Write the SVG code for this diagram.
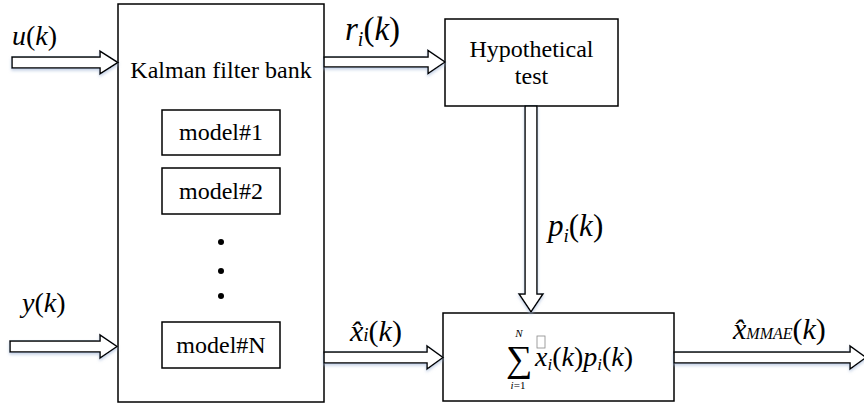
<svg xmlns="http://www.w3.org/2000/svg" width="864" height="408" viewBox="0 0 864 408">
<style>
.box{fill:#fff;stroke:#000;stroke-width:1.5}
.arr{fill:#fff;stroke:#000;stroke-width:1.5;stroke-linejoin:miter}
.t{font-family:"Liberation Serif","Times New Roman",serif;fill:#000}
.m{font-family:"Liberation Serif","Times New Roman",serif;fill:#000;font-style:italic}
.u{font-style:normal}
</style>
<defs>
<filter id="sh" x="-10%" y="-50%" width="120%" height="200%">
<feDropShadow dx="0" dy="2" stdDeviation="1.5" flood-color="#9fb4d6" flood-opacity="0.6"/>
</filter>
</defs>
<rect width="864" height="408" fill="#fff"/>

<g id="kalman">
<rect class="box" x="118" y="4" width="206" height="398"/>
<text class="t" x="221" y="78" font-size="24" text-anchor="middle">Kalman filter bank</text>
</g>
<g id="model1">
<rect class="box" x="162" y="110" width="118" height="45"/>
<text class="t" x="221" y="140" font-size="24" text-anchor="middle">model#1</text>
</g>
<g id="model2">
<rect class="box" x="162" y="168" width="118" height="46"/>
<text class="t" x="221" y="199" font-size="24" text-anchor="middle">model#2</text>
</g>
<g id="dots">
<circle cx="221" cy="242" r="3"/>
<circle cx="221" cy="271" r="3"/>
<circle cx="221" cy="296" r="3"/>
</g>
<g id="modelN">
<rect class="box" x="162" y="322" width="118" height="46"/>
<text class="t" x="221" y="353" font-size="24" text-anchor="middle">model#N</text>
</g>
<g id="hyp">
<rect class="box" x="445" y="19" width="173" height="87"/>
<text class="t" x="531.5" y="57" font-size="24" text-anchor="middle">Hypothetical</text>
<text class="t" x="531.5" y="84" font-size="24" text-anchor="middle">test</text>
</g>
<g id="sum">
<rect class="box" x="443" y="313" width="231" height="88"/>
<text class="t" x="519" y="371" font-size="37" text-anchor="middle">∑</text>
<text class="m" x="519" y="337" font-size="11" text-anchor="middle">N</text>
<text class="m" x="518" y="389" font-size="11" text-anchor="middle">i<tspan class="u">=1</tspan></text>
<rect x="537" y="336" width="8" height="12" fill="none" stroke="#888" stroke-width="0.8"/>
<text class="m" x="535" y="366" font-size="28">x<tspan font-size="17" dy="4">i</tspan><tspan class="u" dy="-4">(</tspan>k<tspan class="u">)</tspan>p<tspan font-size="17" dy="4">i</tspan><tspan class="u" dy="-4">(</tspan>k<tspan class="u">)</tspan></text>
</g>

<g id="connectors" filter="url(#sh)">
<polygon class="arr" points="12,57 100,57 100,51 118,62.5 100,74 100,68 12,68"/>
<polygon class="arr" points="10,341 100,341 100,335 117,346.5 100,358 100,352 10,352"/>
<polygon class="arr" points="324,57 428,57 428,50.5 445,62 428,73.5 428,67 324,67"/>
<polygon class="arr" points="525,106 537,106 537,294 543,294 531,312 519,294 525,294"/>
<polygon class="arr" points="324,352 427,352 427,346 443,357.5 427,369 427,363 324,363"/>
<polygon class="arr" points="674,352 850,352 850,346 866,357.5 850,369 850,363 674,363"/>
</g>

<g id="labels">
<text class="m" x="12" y="45" font-size="28">u<tspan class="u">(</tspan>k<tspan class="u">)</tspan></text>
<text class="m" x="22" y="312" font-size="28">y<tspan class="u">(</tspan>k<tspan class="u">)</tspan></text>
<text class="m" x="345" y="40" font-size="33">r<tspan font-size="20" dy="6">i</tspan><tspan class="u" dy="-6">(</tspan>k<tspan class="u">)</tspan></text>
<text class="m" x="548" y="236" font-size="31">p<tspan font-size="19" dy="6">i</tspan><tspan class="u" dy="-6">(</tspan>k<tspan class="u">)</tspan></text>
<text class="m" x="350" y="341" font-size="30">x̂<tspan font-size="19">i</tspan><tspan class="u">(</tspan>k<tspan class="u">)</tspan></text>
<text class="m" x="733" y="339" font-size="30">x̂<tspan font-size="16">MMAE</tspan><tspan class="u">(</tspan>k<tspan class="u">)</tspan></text>
</g>
</svg>
